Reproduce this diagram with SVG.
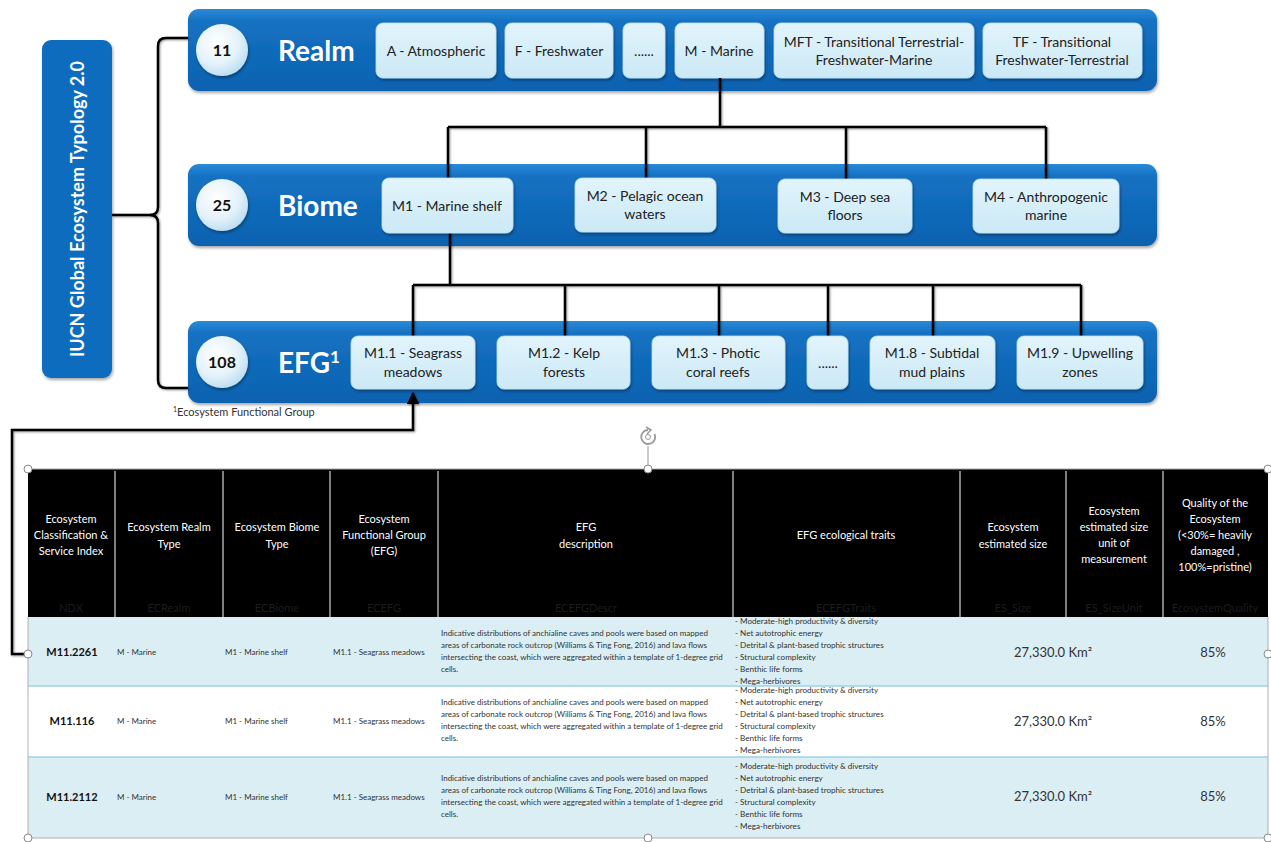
<svg xmlns="http://www.w3.org/2000/svg" width="1271" height="842" viewBox="0 0 1271 842">
<defs>
<linearGradient id="band" x1="0" y1="0" x2="0" y2="1">
<stop offset="0" stop-color="#2a8ad8"/><stop offset="0.15" stop-color="#1571c2"/><stop offset="1" stop-color="#0a62b0"/>
</linearGradient>
<linearGradient id="box" x1="0" y1="0" x2="0" y2="1">
<stop offset="0" stop-color="#e2f4fb"/><stop offset="1" stop-color="#cbe9f6"/>
</linearGradient>
<radialGradient id="circ" cx="0.4" cy="0.35" r="0.7">
<stop offset="0" stop-color="#ffffff"/><stop offset="0.6" stop-color="#e4f2fa"/><stop offset="1" stop-color="#b9dcf0"/>
</radialGradient>
<filter id="sh" x="-5%" y="-10%" width="110%" height="130%">
<feDropShadow dx="1" dy="2" stdDeviation="1.5" flood-color="#000" flood-opacity="0.35"/>
</filter>
<filter id="lsh" x="-5%" y="-5%" width="110%" height="110%">
<feDropShadow dx="1" dy="1" stdDeviation="0.8" flood-color="#000" flood-opacity="0.4"/>
</filter>
<marker id="arr" viewBox="0 0 10 10" refX="9" refY="5" markerWidth="5" markerHeight="5" orient="auto">
<path d="M0,0 L10,5 L0,10 z" fill="#000"/>
</marker>
<style>
.band{fill:url(#band);filter:url(#sh)}
.box{fill:url(#box);stroke:#bfe0ef;stroke-width:0.8;filter:url(#sh)}
.circ{fill:url(#circ);filter:url(#sh)}
.num{font-family:Lato,"Liberation Sans",sans-serif;font-weight:bold;font-size:16px;fill:#111;text-anchor:middle}
.lvl{font-family:Lato,"Liberation Sans",sans-serif;font-weight:bold;font-size:28px;fill:#fff}
.bt{font-family:Lato,"Liberation Sans",sans-serif;font-size:14px;fill:#222;text-anchor:middle}
.con{fill:none;stroke:#000;stroke-width:2.5}
.hd{font-family:Lato,"Liberation Sans",sans-serif;font-size:11px;fill:#fff;text-anchor:middle}
.nm{font-family:Lato,"Liberation Sans",sans-serif;font-size:11px;fill:#1c1c1c;text-anchor:middle}
.sm{font-family:Lato,"Liberation Sans",sans-serif;font-size:8px;fill:#333}
.tr{font-family:Lato,"Liberation Sans",sans-serif;font-size:8.1px;fill:#333}
.ds{font-family:Lato,"Liberation Sans",sans-serif;font-size:8px;fill:#333}
.idx{font-family:Lato,"Liberation Sans",sans-serif;font-size:11px;font-weight:bold;fill:#111;text-anchor:middle}
.big{font-family:Lato,"Liberation Sans",sans-serif;font-size:13px;fill:#333;text-anchor:middle}
.vd{stroke:#fff;stroke-width:1}
.hdl{fill:#fff;stroke:#888;stroke-width:1}
</style>
</defs>
<rect width="1271" height="842" fill="#fff"/>

<g id="title">
<rect x="42" y="40" width="70" height="338" rx="9" fill="#0b6cbd" filter="url(#sh)"/>
<text transform="translate(84,209) rotate(-90)" font-family="Lato,'Liberation Sans',sans-serif" font-weight="bold" font-size="18" fill="#fff" text-anchor="middle">IUCN Global Ecosystem Typology 2.0</text>
</g>

<g id="realm">
<rect class="band" x="188" y="9" width="969" height="82" rx="11"/>
<circle class="circ" cx="222" cy="50" r="26"/>
<text class="num" x="222" y="56">11</text>
<text class="lvl" x="278" y="61">Realm</text>
</g>
<g id="realm-A"><rect class="box" x="376" y="23" width="120" height="55" rx="7"/><text class="bt" x="436" y="56">A - Atmospheric</text></g>
<g id="realm-F"><rect class="box" x="505" y="23" width="108" height="55" rx="7"/><text class="bt" x="559" y="56">F - Freshwater</text></g>
<g id="realm-dots"><rect class="box" x="623" y="23" width="42" height="55" rx="7"/><text class="bt" x="644" y="56">......</text></g>
<g id="realm-M"><rect class="box" x="675" y="23" width="89" height="55" rx="7"/><text class="bt" x="719" y="56">M - Marine</text></g>
<g id="realm-MFT"><rect class="box" x="774" y="23" width="200" height="55" rx="7"/><text class="bt" x="874" y="47">MFT - Transitional Terrestrial-</text><text class="bt" x="874" y="65">Freshwater-Marine</text></g>
<g id="realm-TF"><rect class="box" x="983" y="23" width="159" height="55" rx="7"/><text class="bt" x="1062" y="47">TF - Transitional</text><text class="bt" x="1062" y="65">Freshwater-Terrestrial</text></g>

<g id="biome">
<rect class="band" x="188" y="164" width="969" height="82" rx="11"/>
<circle class="circ" cx="222" cy="205" r="26"/>
<text class="num" x="222" y="211">25</text>
<text class="lvl" x="278" y="216">Biome</text>
</g>

<g id="efg">
<rect class="band" x="188" y="321" width="969" height="82" rx="11"/>
<circle class="circ" cx="222" cy="362" r="26"/>
<text class="num" x="222" y="368">108</text>
<text class="lvl" x="278" y="373">EFG<tspan font-size="17" dy="-10">1</tspan></text>
</g>

<g id="connectors" filter="url(#lsh)">
<path class="con" d="M112,215 H150 Q158,215 158,207 V46 Q158,38 166,38 H188"/>
<path class="con" d="M150,215 Q158,215 158,223 V380 Q158,388 166,388 H188"/>
<path class="con" d="M720,78 V127 M448,127 H1046 M448,127 V178 M646,127 V178 M846,127 V179 M1046,127 V179"/>
<path class="con" d="M450,233 V285" stroke-width="3.5"/>
<path class="con" d="M413,285 H1081 M413,285 V336 M565,285 V336 M719,285 V336 M828,285 V336 M933,285 V336 M1081,285 V336"/>
<path class="con" d="M28,654 H12 V430 H413 V393" marker-end="url(#arr)"/>
</g>

<g id="biome-M1"><rect class="box" x="382" y="178" width="131" height="55" rx="7"/><text class="bt" x="447" y="211">M1 - Marine shelf</text></g>
<g id="biome-M2"><rect class="box" x="575" y="178" width="141" height="54" rx="7"/><text class="bt" x="645" y="201">M2 - Pelagic ocean</text><text class="bt" x="645" y="219">waters</text></g>
<g id="biome-M3"><rect class="box" x="778" y="179" width="134" height="54" rx="7"/><text class="bt" x="845" y="202">M3 - Deep sea</text><text class="bt" x="845" y="220">floors</text></g>
<g id="biome-M4"><rect class="box" x="973" y="179" width="146" height="54" rx="7"/><text class="bt" x="1046" y="202">M4 - Anthropogenic</text><text class="bt" x="1046" y="220">marine</text></g>

<g id="efg-M1.1"><rect class="box" x="351" y="336" width="124" height="53" rx="7"/><text class="bt" x="413" y="358">M1.1 - Seagrass</text><text class="bt" x="413" y="377">meadows</text></g>
<g id="efg-M1.2"><rect class="box" x="497" y="336" width="133" height="53" rx="7"/><text class="bt" x="564" y="358">M1.2 - Kelp</text><text class="bt" x="564" y="377">forests</text></g>
<g id="efg-M1.3"><rect class="box" x="652" y="336" width="133" height="53" rx="7"/><text class="bt" x="718" y="358">M1.3 - Photic</text><text class="bt" x="718" y="377">coral reefs</text></g>
<g id="efg-dots"><rect class="box" x="807" y="336" width="41" height="53" rx="7"/><text class="bt" x="828" y="368">......</text></g>
<g id="efg-M1.8"><rect class="box" x="870" y="336" width="125" height="53" rx="7"/><text class="bt" x="932" y="358">M1.8 - Subtidal</text><text class="bt" x="932" y="377">mud plains</text></g>
<g id="efg-M1.9"><rect class="box" x="1017" y="336" width="126" height="53" rx="7"/><text class="bt" x="1080" y="358">M1.9 - Upwelling</text><text class="bt" x="1080" y="377">zones</text></g>

<text x="173" y="416" font-family="Lato,'Liberation Sans',sans-serif" font-size="11" fill="#333"><tspan font-size="7" dy="-4">1</tspan><tspan dy="4">Ecosystem Functional Group</tspan></text>

<g id="table">
<rect x="28" y="469" width="1240" height="148" fill="#000"/>
<rect x="28" y="617" width="1240" height="69" fill="#daeef3"/>
<rect x="28" y="686" width="1240" height="71" fill="#fff"/>
<rect x="28" y="757" width="1240" height="81" fill="#daeef3"/>
<path d="M28,686 H1268 M28,757 H1268" stroke="#9fd2e6" stroke-width="1.5"/>
<path d="M28,617 V838 M1268,617 V838 M28,838 H1268" stroke="#b0b0b0" stroke-width="1"/>
<path d="M28,469 H1268" stroke="#aaa" stroke-width="1"/>
<path class="vd" d="M115,471 V617 M223,471 V617 M330,471 V617 M438,471 V617 M733,471 V617 M960,471 V617 M1066,471 V617 M1163,471 V617"/>
<text class="hd" x="71" y="523">Ecosystem</text><text class="hd" x="71" y="539">Classification &amp;</text><text class="hd" x="71" y="555">Service Index</text>
<text class="hd" x="169" y="531">Ecosystem Realm</text><text class="hd" x="169" y="548">Type</text>
<text class="hd" x="277" y="531">Ecosystem Biome</text><text class="hd" x="277" y="548">Type</text>
<text class="hd" x="384" y="523">Ecosystem</text><text class="hd" x="384" y="539">Functional Group</text><text class="hd" x="384" y="555">(EFG)</text>
<text class="hd" x="586" y="531">EFG</text><text class="hd" x="586" y="548">description</text>
<text class="hd" x="846" y="539">EFG ecological traits</text>
<text class="hd" x="1013" y="531">Ecosystem</text><text class="hd" x="1013" y="548">estimated size</text>
<text class="hd" x="1114" y="515">Ecosystem</text><text class="hd" x="1114" y="531">estimated size</text><text class="hd" x="1114" y="547">unit of</text><text class="hd" x="1114" y="563">measurement</text>
<text class="hd" x="1215" y="507">Quality of the</text><text class="hd" x="1215" y="523">Ecosystem</text><text class="hd" x="1215" y="539">(&lt;30%= heavily</text><text class="hd" x="1215" y="555">damaged ,</text><text class="hd" x="1215" y="571">100%=pristine)</text>
<text class="nm" x="71" y="612">NDX</text><text class="nm" x="169" y="612">ECRealm</text><text class="nm" x="277" y="612">ECBiome</text><text class="nm" x="384" y="612">ECEFG</text><text class="nm" x="586" y="612">ECEFGDescr</text><text class="nm" x="846" y="612">ECEFGTraits</text><text class="nm" x="1013" y="612">ES_Size</text><text class="nm" x="1114" y="612">ES_SizeUnit</text><text class="nm" x="1215" y="612">EcosystemQuality</text>

<g id="row1">
<text class="idx" x="72" y="656">M11.2261</text>
<text class="sm" x="117" y="655">M - Marine</text><text class="sm" x="225" y="655">M1 - Marine shelf</text><text class="sm" x="333" y="655">M1.1 - Seagrass meadows</text>
<text class="ds" x="441" y="636">Indicative distributions of anchialine caves and pools were based on mapped</text>
<text class="ds" x="441" y="648">areas of carbonate rock outcrop (Williams &amp; Ting Fong, 2016) and lava flows</text>
<text class="ds" x="441" y="660">intersecting the coast, which were aggregated within a template of 1-degree grid</text>
<text class="ds" x="441" y="672">cells.</text>
<text class="tr" x="735" y="624">- Moderate-high productivity &amp; diversity</text>
<text class="tr" x="735" y="636">- Net autotrophic energy</text>
<text class="tr" x="735" y="648">- Detrital &amp; plant-based trophic structures</text>
<text class="tr" x="735" y="660">- Structural complexity</text>
<text class="tr" x="735" y="672">- Benthic life forms</text>
<text class="tr" x="735" y="684">- Mega-herbivores</text>
<text class="big" x="1053" y="657">27,330.0 Km²</text>
<text class="big" x="1213" y="657">85%</text>
</g>
<g id="row2">
<text class="idx" x="72" y="725">M11.116</text>
<text class="sm" x="117" y="724">M - Marine</text><text class="sm" x="225" y="724">M1 - Marine shelf</text><text class="sm" x="333" y="724">M1.1 - Seagrass meadows</text>
<text class="ds" x="441" y="705">Indicative distributions of anchialine caves and pools were based on mapped</text>
<text class="ds" x="441" y="717">areas of carbonate rock outcrop (Williams &amp; Ting Fong, 2016) and lava flows</text>
<text class="ds" x="441" y="729">intersecting the coast, which were aggregated within a template of 1-degree grid</text>
<text class="ds" x="441" y="741">cells.</text>
<text class="tr" x="735" y="693">- Moderate-high productivity &amp; diversity</text>
<text class="tr" x="735" y="705">- Net autotrophic energy</text>
<text class="tr" x="735" y="717">- Detrital &amp; plant-based trophic structures</text>
<text class="tr" x="735" y="729">- Structural complexity</text>
<text class="tr" x="735" y="741">- Benthic life forms</text>
<text class="tr" x="735" y="753">- Mega-herbivores</text>
<text class="big" x="1053" y="726">27,330.0 Km²</text>
<text class="big" x="1213" y="726">85%</text>
</g>
<g id="row3">
<text class="idx" x="72" y="801">M11.2112</text>
<text class="sm" x="117" y="800">M - Marine</text><text class="sm" x="225" y="800">M1 - Marine shelf</text><text class="sm" x="333" y="800">M1.1 - Seagrass meadows</text>
<text class="ds" x="441" y="781">Indicative distributions of anchialine caves and pools were based on mapped</text>
<text class="ds" x="441" y="793">areas of carbonate rock outcrop (Williams &amp; Ting Fong, 2016) and lava flows</text>
<text class="ds" x="441" y="805">intersecting the coast, which were aggregated within a template of 1-degree grid</text>
<text class="ds" x="441" y="817">cells.</text>
<text class="tr" x="735" y="769">- Moderate-high productivity &amp; diversity</text>
<text class="tr" x="735" y="781">- Net autotrophic energy</text>
<text class="tr" x="735" y="793">- Detrital &amp; plant-based trophic structures</text>
<text class="tr" x="735" y="805">- Structural complexity</text>
<text class="tr" x="735" y="817">- Benthic life forms</text>
<text class="tr" x="735" y="829">- Mega-herbivores</text>
<text class="big" x="1053" y="801">27,330.0 Km²</text>
<text class="big" x="1213" y="801">85%</text>
</g>
</g>

<g id="handles">
<path d="M648,446 V469" stroke="#999" stroke-width="1"/>
<path d="M654.5,434 A7,7 0 1 1 648,430" fill="none" stroke="#999" stroke-width="1.8"/>
<path d="M646,427 L651,430 L647,434" fill="none" stroke="#999" stroke-width="1.5"/>
<circle cx="648" cy="437" r="2.5" fill="none" stroke="#999" stroke-width="1"/>
<circle class="hdl" cx="28" cy="469" r="4"/>
<circle class="hdl" cx="648" cy="469" r="4"/>
<circle class="hdl" cx="1268" cy="469" r="4"/>
<circle class="hdl" cx="28" cy="654" r="4"/>
<circle class="hdl" cx="1268" cy="654" r="4"/>
<circle class="hdl" cx="28" cy="838" r="4"/>
<circle class="hdl" cx="648" cy="838" r="4"/>
<circle class="hdl" cx="1268" cy="838" r="4"/>
</g>
</svg>
